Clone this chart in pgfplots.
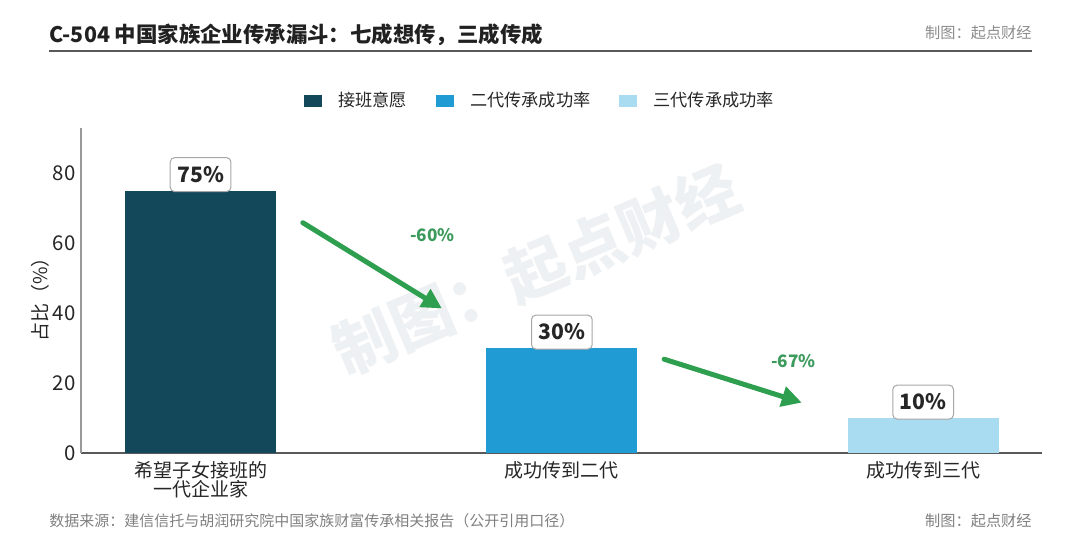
\documentclass[border=0pt]{standalone}
\usepackage{fontspec}
\setmainfont{Noto Sans CJK SC}
\usepackage{pgfplots}
\pgfplotsset{compat=1.18}
\usetikzlibrary{arrows.meta}
\definecolor{cA}{HTML}{13475A}
\definecolor{cB}{HTML}{219BD4}
\definecolor{cC}{HTML}{A9DBF1}
\definecolor{agreen}{HTML}{2E9E4F}
\definecolor{lgreen}{HTML}{3C9A5C}
\definecolor{wm}{HTML}{EEF1F3}
\begin{document}
\begin{tikzpicture}
\path[use as bounding box] (0,0) rectangle (540pt,270pt);
% watermark
\node[rotate=23, text=wm, font=\bfseries\fontsize{31}{31}\selectfont] at (268pt,135pt) {制图：起点财经};
% title
\node[anchor=west, inner sep=0pt, text=black!87, font=\bfseries\fontsize{10.7}{13}\selectfont] at (24.5pt,252.5pt) {C-504 中国家族企业传承漏斗：七成想传，三成传成};
\node[anchor=east, inner sep=0pt, text=black!45, font=\fontsize{7.6}{9}\selectfont] at (516pt,253.5pt) {制图：起点财经};
\draw[line width=1pt, black!65] (24.5pt,244.5pt) -- (516pt,244.5pt);
% footer
\node[anchor=west, inner sep=0pt, text=black!50, font=\fontsize{7.5}{9}\selectfont] at (24.5pt,9.5pt) {数据来源：建信信托与胡润研究院中国家族财富传承相关报告（公开引用口径）};
\node[anchor=east, inner sep=0pt, text=black!50, font=\fontsize{7.6}{9}\selectfont] at (516pt,9.5pt) {制图：起点财经};
\begin{axis}[
  at={(40.5pt,43.5pt)}, anchor=south west,
  scale only axis, width=480.5pt, height=162.5pt,
  xmin=-0.331, xmax=2.329, ymin=0, ymax=92.86,
  axis x line*=bottom, axis y line*=left,
  x axis line style={draw=black!65, line width=0.6pt},
  y axis line style={draw=black!40, line width=0.6pt},
  major tick length=0pt,
  xtick={0,1,2},
  xticklabels={{希望子女接班的\\一代企业家},成功传到二代,成功传到三代},
  xticklabel style={align=center, anchor=north, inner sep=0pt, yshift=-4pt, text=black!85, font=\fontsize{9.5}{9.6}\selectfont},
  ytick={0,20,40,60,80},
  yticklabel style={inner sep=0pt, xshift=-2.5pt, text=black!85, font=\fontsize{10.2}{12}\selectfont},
  /pgf/number format/assume math mode=true,
  ylabel={占比（\%）},
  ylabel style={at={(axis description cs:-0.0427,0.486)}, anchor=center, rotate=0, text=black!85, font=\fontsize{9.5}{10}\selectfont},
  point meta=y,
  nodes near coords={\pgfmathprintnumber{\pgfplotspointmeta}\%},
  every node near coord/.append style={draw=black!35, fill=white, rounded corners=2.2pt, text=black!85, font=\bfseries\fontsize{10.6}{12}\selectfont, inner xsep=3.5pt, inner ysep=0pt, minimum height=17pt, anchor=south, yshift=-0.8pt, line width=0.5pt},
  legend columns=3,
  legend style={at={(axis description cs:0.4766,1.083)}, anchor=center, draw=none, fill=none, inner sep=0pt, font=\fontsize{8.6}{10}\selectfont, text=black!85,
    nodes={inner sep=0pt},
    /tikz/every odd column/.append style={column sep=8pt},
    /tikz/every even column/.append style={column sep=14.5pt}},
  legend image code/.code={\fill[#1] (0pt,-3pt) rectangle (9pt,3pt);},
]
\addplot[ybar, bar width=0.418, bar shift=0pt, fill=cA, draw=none] coordinates {(0,75)};
\addlegendentry{接班意愿}
\addplot[ybar, bar width=0.418, bar shift=0pt, fill=cB, draw=none] coordinates {(1,30)};
\addlegendentry{二代传承成功率}
\addplot[ybar, bar width=0.418, bar shift=0pt, fill=cC, draw=none] coordinates {(2,10)};
\addlegendentry{三代传承成功率}
\draw[agreen, line width=2.5pt, line cap=round, -{Triangle[length=10pt,width=10pt]}] (axis cs:0.283,65.8) -- (axis cs:0.668,41.3);
\draw[agreen, line width=2.5pt, line cap=round, -{Triangle[length=10pt,width=10pt]}] (axis cs:1.283,26.8) -- (axis cs:1.664,14.4);
\node[text=lgreen, font=\bfseries\fontsize{8.6}{10}\selectfont] at (axis cs:0.642,62.3) {-60\%};
\node[text=lgreen, font=\bfseries\fontsize{8.6}{10}\selectfont] at (axis cs:1.641,26.4) {-67\%};
\end{axis}
\end{tikzpicture}
\end{document}
